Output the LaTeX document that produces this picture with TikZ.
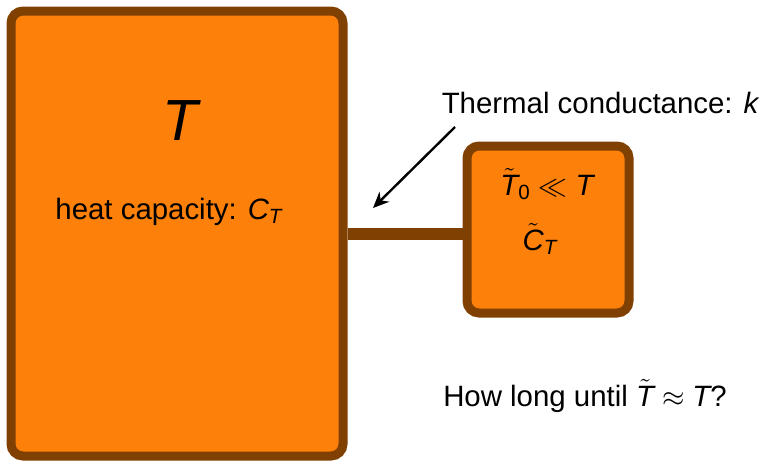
\documentclass[tikz,border=0pt]{standalone}
\usepackage{amsmath}
\usepackage{fontspec}
\setmainfont{Liberation Sans}
\usetikzlibrary{arrows.meta}
\definecolor{boxfill}{RGB}{252,128,10}
\definecolor{boxline}{RGB}{128,64,2}
\newcommand{\vT}{\text{\itshape T}}
\newcommand{\vC}{\text{\itshape C}}
\newcommand{\vk}{\text{\itshape k}}
\tikzset{
  bath/.style={draw=boxline, fill=boxfill, line width=4.5pt, rounded corners=6pt, inner sep=0pt},
  lbl/.style={font=\fontsize{14.7}{17}\selectfont, inner sep=0pt},
  link/.style={draw=boxline, line width=6pt},
  pointer/.style={draw=black, line width=1.2pt, -{Stealth[length=8pt,width=7pt]}}
}
\begin{document}
\begin{tikzpicture}[x=0.5pt,y=-0.5pt]
\useasboundingbox (0,0) rectangle (759,461);
\node[bath, minimum width=166pt, minimum height=222.5pt] (big) at (177,233.5) {};
\node[bath, minimum width=81pt, minimum height=83.5pt] (small) at (548,229.5) {};
\draw[link] (big.east) -- (big.east -| small.west);
\node[lbl, font=\fontsize{29}{32}\selectfont] (tbig) at (180,121) {\itshape T};
\node[lbl] (cap) at (169,212) {heat capacity: $\vC_{\vT}$};
\node[lbl] (t0) at (547,184) {$\tilde{\vT}_{\text{0}} \ll \vT$};
\node[lbl] (ct) at (540,239) {$\tilde{\vC}_{\vT}$};
\node[lbl] (cond) at (600,103) {Thermal conductance: $\vk$};
\node[lbl] (how) at (585,396) {How long until $\tilde{\vT} \approx \vT$?};
\coordinate (a0) at (455,127);
\coordinate (a1) at (373,208);
\draw[pointer] (a0) -- (a1);
\end{tikzpicture}
\end{document}
